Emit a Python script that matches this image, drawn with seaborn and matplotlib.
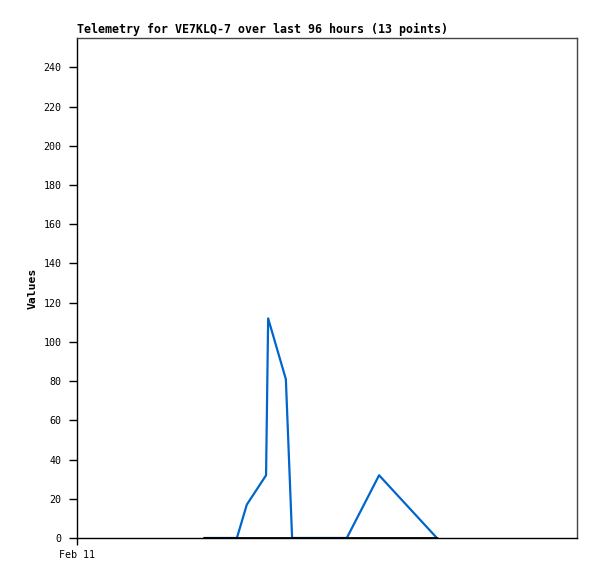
import pandas as pd
import matplotlib.pyplot as plt
import seaborn as sns

# hours since Feb 11 00:00
hours_a = [24.4, 30.7, 32.6, 36.3, 36.7, 40.1, 41.3, 51.8, 58.0, 69.1]
values_a = [0, 0, 17, 32, 112, 81, 0, 0, 32, 0]
hours_b = [24.4, 69.1]
values_b = [0, 0]

y_ticks = list(range(0, 241, 20))
x_ticks = [0]
x_labels = ['Feb 11']

df_a = pd.DataFrame({'hours': hours_a, 'value': values_a})
df_b = pd.DataFrame({'hours': hours_b, 'value': values_b})

sns.set_style('ticks')
plt.rcParams['font.family'] = ['DejaVu Sans Mono']

fig = plt.figure(figsize=(5.97, 5.79), dpi=100)
ax = fig.add_axes([77 / 597, 41 / 579, 500 / 597, 500 / 579])

sns.lineplot(x='hours', y='value', data=df_a, color='#0066cc', linewidth=1.6, ax=ax)
sns.lineplot(x='hours', y='value', data=df_b, color='black', linewidth=2.0, ax=ax)

ax.set_xlim(0, 96)
ax.set_ylim(0, 255)
ax.set_yticks(y_ticks)
ax.set_xticks(x_ticks)
ax.set_xticklabels(x_labels)
ax.tick_params(labelsize=7.2, length=5.8, width=1, color='black',
               labelcolor='black', direction='out', pad=5.5)
ax.tick_params(axis='x', length=5, pad=4)

for s in ['top', 'right']:
    ax.spines[s].set_color('#444444')
    ax.spines[s].set_linewidth(1)
for s in ['left', 'bottom']:
    ax.spines[s].set_color('black')
    ax.spines[s].set_linewidth(1)

ax.set_xlabel('')
ax.set_ylabel('Values', fontsize=8.2, fontweight='bold', labelpad=4, color='black')
ax.set_title('Telemetry for VE7KLQ-7 over last 96 hours (13 points)',
             loc='left', fontsize=8.4, fontweight='bold', pad=3.5, color='black')

plt.savefig('out.png', dpi=100)
